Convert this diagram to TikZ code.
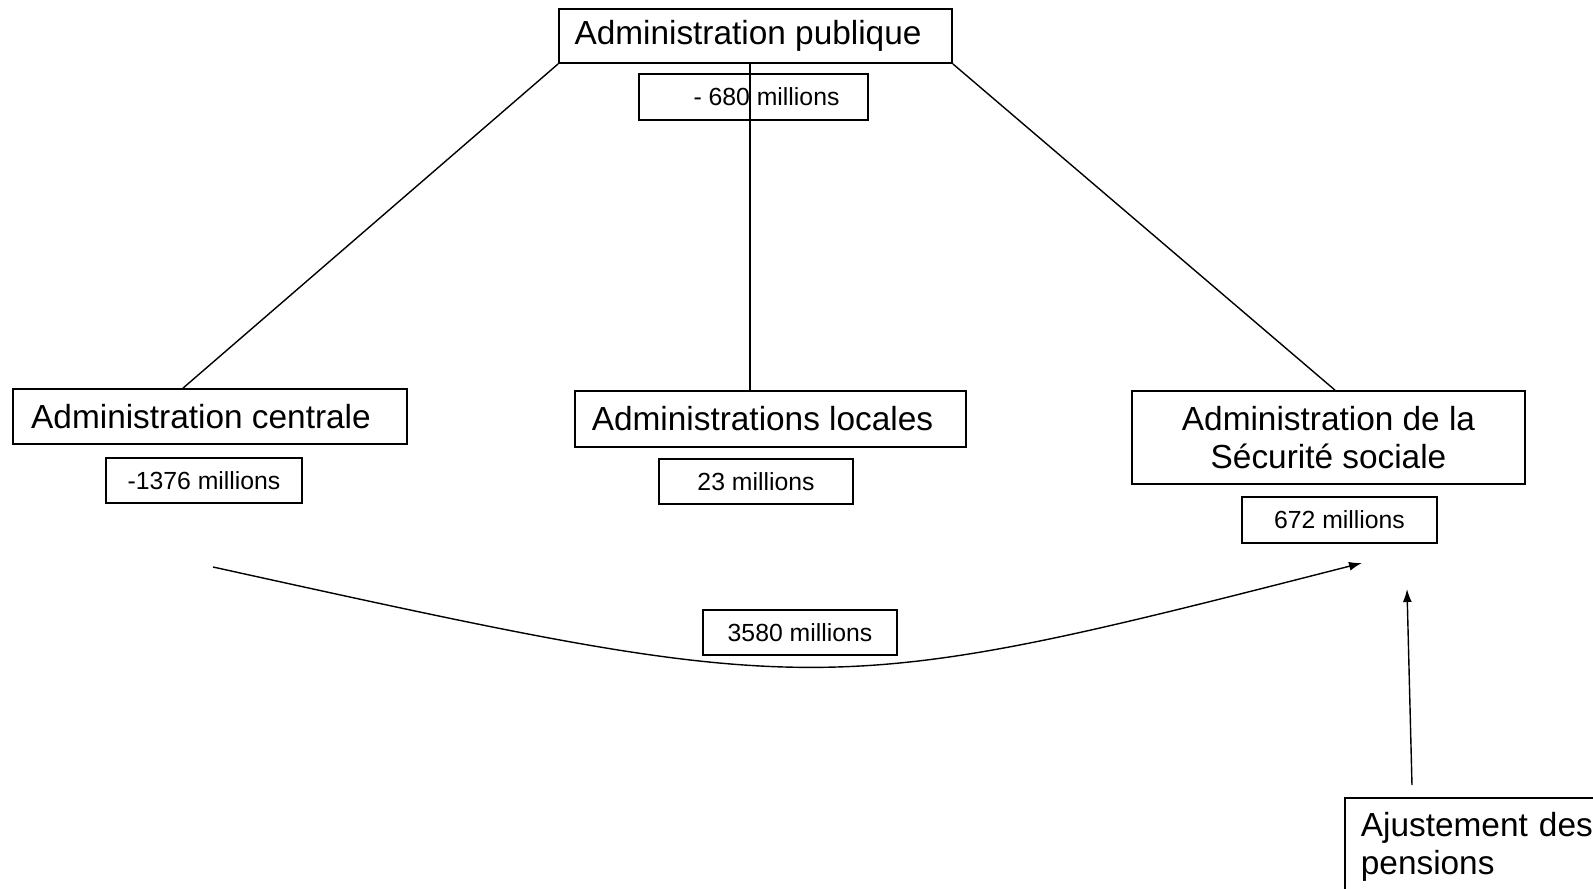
\documentclass[tikz,border=0pt]{standalone}
\usepackage{fontspec}
\setmainfont{Liberation Sans}
\usetikzlibrary{arrows.meta}
\tikzset{admin/.style={draw,line width=1pt,font=\fontsize{19}{22}\selectfont,inner sep=0pt,align=center},
	amount/.style={draw,line width=1pt,font=\fontsize{14.1}{16}\selectfont,inner sep=0pt,minimum height=0.9cm},
	link/.style={draw,line width=0.8pt},
	flow/.style={draw,line width=0.8pt,-{Latex[length=0.26cm,width=0.18cm]}}}

\begin{document}
\begin{tikzpicture}[x=0.02cm,y=-0.02cm]
	\clip (0,0) rectangle (1593,889);
	% the three sub-sectors
	\node[admin,minimum width=7.86cm,minimum height=1.08cm] (pub) at (755.5,36) {\hspace*{-0.3cm}Administration publique};
	\node[admin,minimum width=7.88cm,minimum height=1.1cm] (centrale) at (210,416.5) {\hspace*{-0.36cm}Administration centrale};
	\node[admin,minimum width=7.82cm,minimum height=1.12cm] (locales) at (770.5,419) {\hspace*{-0.32cm}Administrations locales};
	\node[admin,minimum width=7.86cm,minimum height=1.86cm] (secu) at (1328.5,437.5) {Administration de la\\S\'ecurit\'e sociale};
	\node[admin,anchor=north west,align=left,text width=7cm,text depth=1.5cm,inner xsep=0.32cm,inner ysep=0.28cm] (ajust) at (1344,797) {Ajustement des\\pensions};
	% amounts
	\node[amount,minimum width=4.58cm,minimum height=0.92cm] (pubval) at (753.5,97) {\hspace*{0.52cm}- 680 millions};
	\node[amount,minimum width=3.92cm] (centraleval) at (204,480.5) {-1376 millions};
	\node[amount,minimum width=3.88cm] (localesval) at (756,481.5) {23 millions};
	\node[amount,minimum width=3.9cm,minimum height=0.92cm] (secuval) at (1339.5,520) {672 millions};
	\node[amount,minimum width=3.88cm] (transferval) at (800,632.5) {3580 millions};
	% tree
	\draw[link] (pub.south west) -- ([xshift=-0.54cm]centrale.north);
	\draw[link] ([xshift=-0.11cm]pub.south) -- ([xshift=-0.11cm]pub.south |- locales.north);
	\draw[link] (pub.south east) -- ([xshift=0.13cm]secu.north);
	% transfers
	\coordinate (transferStart) at (213,567);
	\coordinate (transferEnd) at (1362,563);
	\coordinate (pensionsTip) at (1407,589);
	\draw[flow] (transferStart) .. controls (821.5,701) .. (transferEnd);
	\draw[flow] ([xshift=1.36cm,yshift=0.24cm]ajust.north west) -- (pensionsTip);
\end{tikzpicture}
\end{document}
